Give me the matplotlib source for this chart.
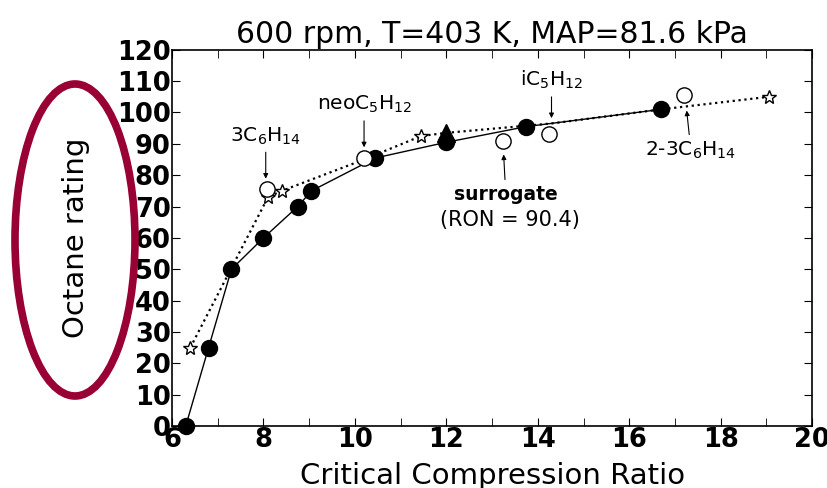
import matplotlib
matplotlib.use("Agg")
from matplotlib import pyplot as plt
from matplotlib.patches import Ellipse

plt.rcParams['font.family'] = 'DejaVu Sans'
plt.rcParams['mathtext.default'] = 'regular'

# filled circles, solid line
cr_solid = [6.3, 6.8, 7.3, 8.0, 8.75, 9.05, 10.45, 12.0, 13.75, 16.7]
on_solid = [0, 25, 50, 60, 70, 75, 85.5, 90.5, 95.5, 101]

# stars, dotted line (some points hidden under other markers)
cr_dot = [6.4, 8.1, 8.4, 10.2, 11.45, 12.0, 14.3, 16.7, 19.05]
on_dot = [25, 73, 75, 85, 92.5, 93.5, 96.5, 101, 105]
star_idx = [0, 1, 2, 4, 8]

# open circles (pure compounds + surrogate)
cr_open = [8.08, 10.2, 13.25, 14.25, 17.2]
on_open = [75.5, 85.5, 91, 93, 105.5]

# filled triangle
cr_tri = [12.0]
on_tri = [93.5]

fig = plt.figure(figsize=(8.27, 4.88), dpi=100)
ax = fig.add_axes([0.208, 0.127, 0.774, 0.771])

ax.plot(cr_dot, on_dot, ':', color='black', lw=1.6, marker='*', ms=10,
        markevery=star_idx, mfc='white', mec='black', mew=1.0, zorder=2)
ax.plot(cr_solid, on_solid, '-', color='black', lw=1.0, marker='o', ms=11.5,
        mfc='black', mec='black', zorder=3, clip_on=False)
ax.plot(cr_open, on_open, 'o', ms=11, mfc='white', mec='black', mew=1.0, zorder=4)
ax.plot(cr_tri, on_tri, '^', ms=13, color='black', zorder=5)

arrow = dict(arrowstyle='-|>', color='black', lw=0.8, mutation_scale=7)
fs_lab = 14.5
ax.annotate(r'3C$_6$H$_{14}$', xy=(8.05, 78), xytext=(8.05, 92.5),
            ha='center', va='center', fontsize=fs_lab, arrowprops=arrow)
ax.annotate(r'neoC$_5$H$_{12}$', xy=(10.2, 88), xytext=(10.2, 102.5),
            ha='center', va='center', fontsize=fs_lab, arrowprops=arrow)
ax.annotate(r'iC$_5$H$_{12}$', xy=(14.3, 97.3), xytext=(14.3, 110.3),
            ha='center', va='center', fontsize=fs_lab, arrowprops=arrow)
ax.annotate(r'2-3C$_6$H$_{14}$', xy=(17.25, 101.5), xytext=(17.35, 87.8),
            ha='center', va='center', fontsize=fs_lab, arrowprops=arrow)
ax.annotate('surrogate', xy=(13.25, 87.5), xytext=(13.3, 73.8),
            ha='center', va='center', fontsize=13.5, fontweight='bold',
            arrowprops=arrow)
ax.text(13.4, 65.8, '(RON = 90.4)', ha='center', va='center', fontsize=15)

ax.set_xlim(6, 20)
ax.set_ylim(0, 120)
ax.set_xticks(range(6, 21, 2))
ax.set_xticks(range(6, 21, 1), minor=True)
ax.set_yticks(range(0, 121, 10))
ax.tick_params(which='both', direction='in', top=True, right=True,
               labelsize=18.5, pad=1, length=6)
for lbl in ax.get_xticklabels() + ax.get_yticklabels():
    lbl.set_fontweight('bold')
for s in ax.spines.values():
    s.set_linewidth(1.2)

ax.set_title('600 rpm, T=403 K, MAP=81.6 kPa', fontsize=21.5, pad=5)
ax.set_xlabel('Critical Compression Ratio', fontsize=21, labelpad=6)
ax.set_ylabel('Octane rating', fontsize=21, labelpad=19)

# red ellipse drawn around the y label
ell = Ellipse((75 / 827, 1 - 240 / 488), 120 / 827, 312 / 488,
              transform=fig.transFigure, fill=False, ec='#990033', lw=5.5)
fig.add_artist(ell)

fig.savefig('out.png', dpi=100)
